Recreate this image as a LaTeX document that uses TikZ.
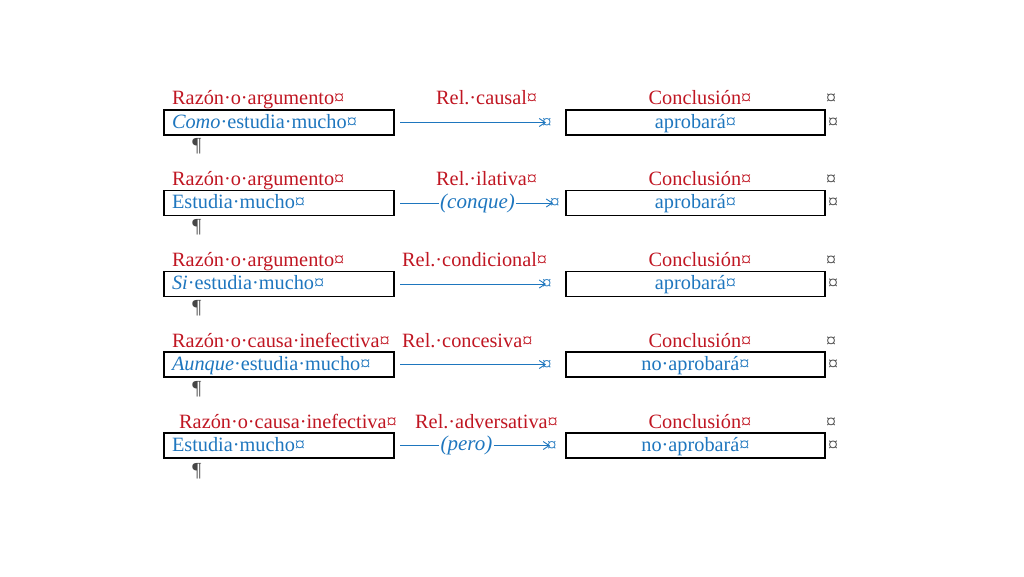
\documentclass[tikz,border=0pt]{standalone}
\usepackage{fontspec}
\setmainfont{Liberation Serif}
\usetikzlibrary{arrows.meta}
\definecolor{wred}{RGB}{192,22,34}
\definecolor{wblue}{RGB}{30,118,190}
\definecolor{wgray}{RGB}{70,70,70}
\tikzset{
  hdr/.style={anchor=base west,text=wred,font=\fontsize{20.3}{22}\selectfont,inner sep=0pt},
  hdrc/.style={anchor=base,text=wred,font=\fontsize{20.3}{22}\selectfont,inner sep=0pt},
  fmark/.style={anchor=base west,text=wgray,font=\fontsize{20}{20}\selectfont,inner sep=0pt},
  lbox/.style={draw=black,line width=1.1pt,minimum width=230pt,minimum height=25pt,text width=214pt,align=left,inner xsep=8pt,inner ysep=0pt,text=wblue,font=\fontsize{20.3}{22}\selectfont},
  rbox/.style={draw=black,line width=1.1pt,minimum width=259pt,minimum height=25pt,text width=243pt,align=center,inner xsep=8pt,inner ysep=0pt,text=wblue,font=\fontsize{20.3}{22}\selectfont},
  conn/.style={draw=wblue,line width=0.9pt,-{Straight Barb[length=6pt,width=8pt,line width=0.9pt]}},
  plain/.style={draw=wblue,line width=0.9pt},
  endmark/.style={anchor=west,text=wblue,font=\fontsize{19}{20}\selectfont,inner sep=0pt},
  midlab/.style={text=wblue,font=\fontsize{21}{22}\itshape\selectfont,inner sep=1pt},
  pil/.style={text=wgray,font=\fontsize{20}{20}\selectfont,inner sep=0pt},
}
\newcommand{\lowr}[1]{\raisebox{-1.5pt}{#1}}
\begin{document}
\begin{tikzpicture}[x=1pt,y=-1pt]
\useasboundingbox (0,0) rectangle (1024,576);

% ---------- Row 1 ----------
\node[hdr] (h1a) at (172,104) {Razón·o·argumento¤};
\node[hdr] (h1b) at (436,104) {Rel.·causal¤};
\node[hdrc] (h1c) at (700,104) {Conclusión¤};
\node[fmark] (h1d) at (826,104) {¤};
\node[lbox] (l1) at (279,122.5) {\strut\lowr{\textit{Como}·estudia·mucho¤}};
\node[rbox] (r1) at (695.5,122.5) {\strut\lowr{aprobará¤}};
\node[fmark,anchor=west] (m1) at (828,123) {¤};
\coordinate (s1) at (400,122.5);
\coordinate (e1) at (546,122.5);
\draw[conn] (s1) -- (e1);
\node[endmark] (t1) at (542,123) {¤};
\node[pil] (p1) at (197,146) {¶};

% ---------- Row 2 ----------
\node[hdr] (h2a) at (172,185) {Razón·o·argumento¤};
\node[hdr] (h2b) at (436,185) {Rel.·ilativa¤};
\node[hdrc] (h2c) at (700,185) {Conclusión¤};
\node[fmark] (h2d) at (826,185) {¤};
\node[lbox] (l2) at (279,203) {\strut\lowr{Estudia·mucho¤}};
\node[rbox] (r2) at (695.5,203) {\strut\lowr{aprobará¤}};
\node[fmark,anchor=west] (m2) at (828,203.5) {¤};
\coordinate (s2) at (400,203);
\coordinate (e2) at (553,203);
\node[midlab] (c2) at (477.5,203) {(conque)};
\draw[plain] (s2) -- (s2 -| c2.west);
\draw[conn] (c2.east |- e2) -- (e2);
\node[endmark] (t2) at (550,203.5) {¤};
\node[pil] (p2) at (197,227) {¶};

% ---------- Row 3 ----------
\node[hdr] (h3a) at (172,266) {Razón·o·argumento¤};
\node[hdr] (h3b) at (402,266) {Rel.·condicional¤};
\node[hdrc] (h3c) at (700,266) {Conclusión¤};
\node[fmark] (h3d) at (826,266) {¤};
\node[lbox] (l3) at (279,284) {\strut\lowr{\textit{Si}·estudia·mucho¤}};
\node[rbox] (r3) at (695.5,284) {\strut\lowr{aprobará¤}};
\node[fmark,anchor=west] (m3) at (828,284.5) {¤};
\coordinate (s3) at (400,284);
\coordinate (e3) at (546,284);
\draw[conn] (s3) -- (e3);
\node[endmark] (t3) at (542,284.5) {¤};
\node[pil] (p3) at (197,308) {¶};

% ---------- Row 4 ----------
\node[hdr] (h4a) at (172,347) {Razón·o·causa·inefectiva¤};
\node[hdr] (h4b) at (402,347) {Rel.·concesiva¤};
\node[hdrc] (h4c) at (700,347) {Conclusión¤};
\node[fmark] (h4d) at (826,347) {¤};
\node[lbox] (l4) at (279,364.5) {\strut\lowr{\textit{Aunque}·estudia·mucho¤}};
\node[rbox] (r4) at (695.5,364.5) {\strut\lowr{no·aprobará¤}};
\node[fmark,anchor=west] (m4) at (828,365) {¤};
\coordinate (s4) at (400,364.5);
\coordinate (e4) at (546,364.5);
\draw[conn] (s4) -- (e4);
\node[endmark] (t4) at (542,365) {¤};
\node[pil] (p4) at (197,389) {¶};

% ---------- Row 5 ----------
\node[hdr] (h5a) at (179,428) {Razón·o·causa·inefectiva¤};
\node[hdr] (h5b) at (415,428) {Rel.·adversativa¤};
\node[hdrc] (h5c) at (700,428) {Conclusión¤};
\node[fmark] (h5d) at (826,428) {¤};
\node[lbox] (l5) at (279,445.5) {\strut\lowr{Estudia·mucho¤}};
\node[rbox] (r5) at (695.5,445.5) {\strut\lowr{no·aprobará¤}};
\node[fmark,anchor=west] (m5) at (828,446) {¤};
\coordinate (s5) at (400,445.5);
\coordinate (e5) at (550,445.5);
\node[midlab] (c5) at (466.5,445.5) {(pero)};
\draw[plain] (s5) -- (s5 -| c5.west);
\draw[conn] (c5.east |- e5) -- (e5);
\node[endmark] (t5) at (547,446) {¤};
\node[pil] (p5) at (197,471) {¶};
\end{tikzpicture}
\end{document}
